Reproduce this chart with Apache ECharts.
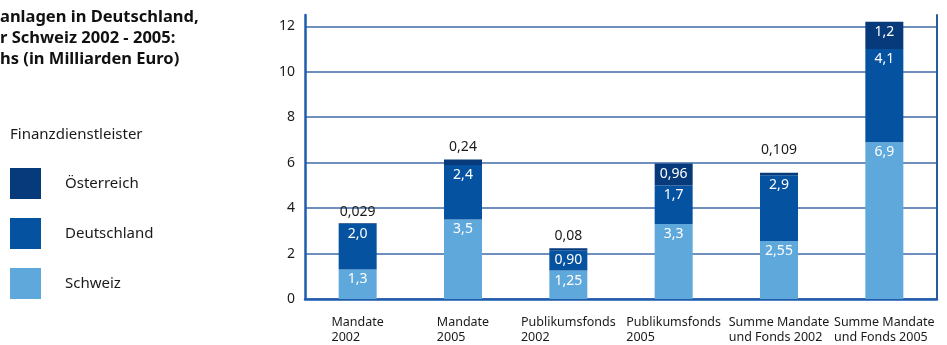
<!DOCTYPE html>
<html>
<head>
<meta charset="utf-8">
<script src="https://cdn.jsdelivr.net/npm/echarts@6/dist/echarts.min.js"></script>
<style>
  html, body { margin: 0; padding: 0; background: #ffffff; }
  #chart { width: 947px; height: 345px; }
</style>
</head>
<body>
<div id="chart"></div>
<script>
// Categories (two-line axis labels)
var categories = [
  ['Mandate', '2002'],
  ['Mandate', '2005'],
  ['Publikumsfonds', '2002'],
  ['Publikumsfonds', '2005'],
  ['Summe Mandate', 'und Fonds 2002'],
  ['Summe Mandate', 'und Fonds 2005']
];

// Values in billions of euro, written the way they are labelled
var schweiz     = ['1,3', '3,5', '1,25', '3,3', '2,55', '6,9'];
var deutschland = ['2,0', '2,4', '0,90', '1,7', '2,9', '4,1'];
var oesterreich = ['0,029', '0,24', '0,08', '0,96', '0,109', '1,2'];

// Small Austrian segments get their label above the bar instead of inside
var oesterreichLabelOutside = [true, true, true, false, true, false];
var oesterreichLabelDistance = [4, 5, 5, 5, 16, 5];

var yTicks = [0, 2, 4, 6, 8, 10, 12];

var titleLines = ['anlagen in Deutschland,', 'r Schweiz 2002 - 2005:', 'hs (in Milliarden Euro)'];
var legendTitle = 'Finanzdienstleister';

var COLORS = {
  oesterreich: '#063a7a',
  deutschland: '#0552a1',
  schweiz: '#5fa8dc'
};

function toNum(s) { return parseFloat(s.replace(',', '.')); }

var FONT = '"Noto Sans"';

function insideLabel() {
  return {
    show: true,
    position: 'insideTop',
    distance: 3,
    color: '#ffffff',
    fontFamily: FONT,
    fontSize: 14,
    formatter: function (p) { return p.data.text; }
  };
}

var schweizData = schweiz.map(function (s) { return { value: toNum(s), text: s }; });
var deutschlandData = deutschland.map(function (s) { return { value: toNum(s), text: s }; });
var oesterreichData = oesterreich.map(function (s, i) {
  var outside = oesterreichLabelOutside[i];
  return {
    value: toNum(s),
    text: s,
    label: outside
      ? { position: 'top', color: '#1a1a1a', distance: oesterreichLabelDistance[i] }
      : { position: 'insideTop', color: '#ffffff', distance: 3 }
  };
});

var chart = echarts.init(document.getElementById('chart'), null, { renderer: 'canvas' });

// split line colours: one per tick, the last (axis max) is hidden
var splitColors = yTicks.map(function () { return '#3f6ba8'; });
splitColors.push('rgba(0,0,0,0)');

chart.setOption({
  animation: false,
  backgroundColor: '#ffffff',
  textStyle: { fontFamily: FONT },
  graphic: [
    {
      type: 'text', left: 0, top: 7,
      style: {
        text: titleLines.join('\n'),
        font: 'bold 16.5px ' + FONT,
        lineHeight: 21,
        fill: '#111111'
      }
    },
    {
      type: 'text', left: 10, top: 127,
      style: { text: legendTitle, font: '15px ' + FONT, fill: '#1a1a1a' }
    }
  ],
  legend: {
    orient: 'vertical',
    left: 10,
    top: 168,
    padding: 0,
    itemWidth: 31,
    itemHeight: 31,
    itemGap: 19,
    icon: 'rect',
    selectedMode: false,
    data: ['Österreich', 'Deutschland', 'Schweiz'],
    textStyle: { fontFamily: FONT, fontSize: 15, color: '#1a1a1a', padding: [0, 0, 0, 19] }
  },
  grid: { left: 305, right: 10, top: 15, bottom: 46, containLabel: false },
  xAxis: {
    type: 'category',
    data: categories.map(function (c) { return c.join('\n'); }),
    axisLine: { show: true, lineStyle: { color: '#1f5cae', width: 2.5 } },
    axisTick: { show: false },
    axisLabel: {
      interval: 0,
      margin: 16,
      fontFamily: FONT,
      fontSize: 12.5,
      color: '#1a1a1a',
      lineHeight: 15,
      formatter: function (v) {
        return v.split('\n').map(function (l) { return '{l|' + l + '}'; }).join('\n');
      },
      rich: { l: { align: 'left', fontFamily: FONT, fontSize: 12.5, lineHeight: 15, color: '#1a1a1a' } }
    }
  },
  yAxis: [
    {
      type: 'value',
      min: 0,
      max: 12.5,
      interval: 2,
      position: 'left',
      axisLine: { show: true, lineStyle: { color: '#1f5cae', width: 2.5 } },
      axisTick: { show: false },
      axisLabel: {
        margin: 10,
        showMaxLabel: false,
        fontFamily: FONT,
        fontSize: 14,
        color: '#1a1a1a'
      },
      splitLine: { show: true, lineStyle: { color: splitColors, width: 1.5 } }
    },
    {
      type: 'value',
      min: 0,
      max: 12.5,
      interval: 2,
      position: 'right',
      axisLine: { show: true, lineStyle: { color: '#2a5aa0', width: 2 } },
      axisTick: { show: false },
      axisLabel: { show: false },
      splitLine: { show: false }
    }
  ],
  series: [
    {
      name: 'Schweiz', type: 'bar', stack: 'total', barWidth: 38,
      itemStyle: { color: COLORS.schweiz },
      label: insideLabel(),
      data: schweizData
    },
    {
      name: 'Deutschland', type: 'bar', stack: 'total', barWidth: 38,
      itemStyle: { color: COLORS.deutschland },
      label: insideLabel(),
      data: deutschlandData
    },
    {
      name: 'Österreich', type: 'bar', stack: 'total', barWidth: 38,
      itemStyle: { color: COLORS.oesterreich },
      label: insideLabel(),
      data: oesterreichData
    }
  ]
});
</script>
</body>
</html>
